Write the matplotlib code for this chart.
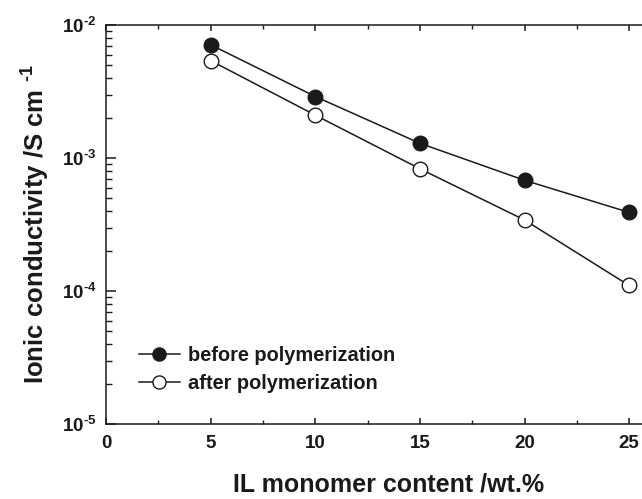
import numpy as np
import matplotlib
matplotlib.use('Agg')
import matplotlib.pyplot as plt
from matplotlib.ticker import FixedLocator, LogLocator, NullFormatter, FuncFormatter

# data
il_content = [5, 10, 15, 20, 25]                       # wt.%
cond_before = [7.1e-3, 2.9e-3, 1.29e-3, 6.8e-4, 3.9e-4]  # S/cm
cond_after = [5.4e-3, 2.1e-3, 8.3e-4, 3.42e-4, 1.1e-4]   # S/cm

plt.rcParams['font.family'] = ['Liberation Sans', 'DejaVu Sans']
plt.rcParams['font.weight'] = 'bold'
plt.rcParams['mathtext.fontset'] = 'custom'
plt.rcParams['mathtext.rm'] = 'Liberation Sans:bold'
plt.rcParams['mathtext.bf'] = 'Liberation Sans:bold'
plt.rcParams['mathtext.default'] = 'bf'

ink = '#1a1a1a'

fig = plt.figure(figsize=(6.42, 4.99), dpi=100)
# axes run past the right edge of the picture, as in the original
ax = fig.add_axes([106/642, 75/499, 565/642, 399/499])

ax.plot(il_content, cond_before, '-o', color=ink, lw=1.1, ms=10.5,
        mfc=ink, mec=ink, mew=1.0, label='before polymerization')
ax.plot(il_content, cond_after, '-o', color=ink, lw=1.1, ms=10.5,
        mfc='white', mec=ink, mew=1.0, label='after polymerization')

ax.set_yscale('log')
ax.set_xlim(0, 27)
ax.set_ylim(1e-5, 1e-2)

ax.xaxis.set_major_locator(FixedLocator([0, 5, 10, 15, 20, 25]))
ax.xaxis.set_minor_locator(FixedLocator([2.5, 7.5, 12.5, 17.5, 22.5]))
ax.yaxis.set_major_locator(FixedLocator([1e-5, 1e-4, 1e-3, 1e-2]))
ax.yaxis.set_minor_locator(LogLocator(base=10, subs=np.arange(2, 10)))
ax.yaxis.set_minor_formatter(NullFormatter())
ax.yaxis.set_major_formatter(FuncFormatter(
    lambda v, p: r'$10^{\text{-%d}}$' % abs(int(round(np.log10(v))))))

for s in ax.spines.values():
    s.set_color(ink)
    s.set_linewidth(1.1)

ax.tick_params(axis='both', which='major', direction='out', length=7,
               width=1.1, color=ink, labelsize=13.5, labelcolor=ink)
ax.tick_params(axis='both', which='minor', direction='out', length=4,
               width=1.0, color=ink)
ax.tick_params(axis='x', which='major', length=9, pad=8)
ax.tick_params(axis='x', which='minor', length=5)
ax.tick_params(axis='y', which='major', pad=7)
ax.tick_params(top=True, which='both', direction='in')
ax.tick_params(axis='x', which='major', top=True, length=4)
ax.tick_params(axis='x', which='minor', top=True, length=3)

ax.set_xlabel('IL monomer content /wt.%', fontsize=18, fontweight='bold',
              color=ink, labelpad=15)
ax.set_ylabel(r'Ionic conductivity /S cm $^{\text{-1}}$', fontsize=18.5,
              fontweight='bold', color=ink, labelpad=7)

ax.legend(loc='upper left', bbox_to_anchor=(0.058, 0.195), frameon=False,
          fontsize=14.4, handlelength=2.05, handletextpad=0.4,
          borderaxespad=0, borderpad=0, labelspacing=0.42, markerscale=0.9,
          labelcolor=ink)

fig.savefig('out.png', dpi=100)
